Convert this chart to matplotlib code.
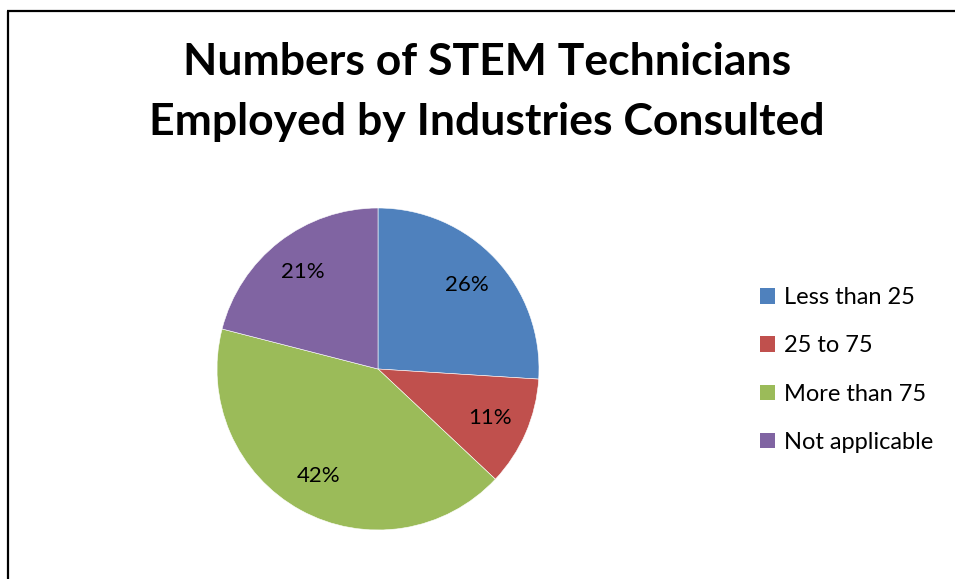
import matplotlib.pyplot as plt
from matplotlib.lines import Line2D
from matplotlib.patches import Patch

categories = ["Less than 25", "25 to 75", "More than 75", "Not applicable"]
shares = [26, 11, 42, 21]
colors = ["#4F81BD", "#C0504D", "#9BBB59", "#8064A2"]
title_lines = ["Numbers of STEM Technicians", "Employed by Industries Consulted"]

W, H = 955, 579
fig = plt.figure(figsize=(W / 100, H / 100), dpi=100)
plt.rcParams['font.family'] = ['Lato', 'DejaVu Sans']

# chart border (only left and top edges visible in the crop)
fig.add_artist(Line2D([7.5 / W, 7.5 / W], [0, 1 - 10.5 / H], transform=fig.transFigure,
                      color="black", linewidth=1.6, solid_capstyle="butt"))
fig.add_artist(Line2D([6.7 / W, 1.0], [1 - 10.5 / H, 1 - 10.5 / H], transform=fig.transFigure,
                      color="black", linewidth=1.6, solid_capstyle="butt"))

# title
fig.text(487 / W, 1 - 62 / H, title_lines[0], ha="center", va="center",
         fontsize=32, fontweight="bold")
fig.text(487 / W, 1 - 122 / H, title_lines[1], ha="center", va="center",
         fontsize=32, fontweight="bold")

# pie: centre (378, 369), radius 161 px
cx, cy, r = 378, 369, 161
ax = fig.add_axes([(cx - r) / W, (H - cy - r) / H, 2 * r / W, 2 * r / H])
wedges, _, autotexts = ax.pie(shares, colors=colors, startangle=90, counterclock=False,
                              autopct="%d%%", pctdistance=0.76,
                              wedgeprops=dict(edgecolor="white", linewidth=0.4),
                              textprops=dict(fontsize=16, color="black"))
ax.set_xlim(-1, 1)
ax.set_ylim(-1, 1)

handles = [Patch(facecolor=c, edgecolor="none") for c in colors]
fig.legend(handles, categories, loc="center left", frameon=False,
           bbox_to_anchor=(760 / W, 1 - 370 / H), fontsize=17,
           handlelength=0.62, handleheight=0.62, handletextpad=0.4,
           labelspacing=1.15, borderaxespad=0, borderpad=0)

fig.savefig("out.png", dpi=100)
